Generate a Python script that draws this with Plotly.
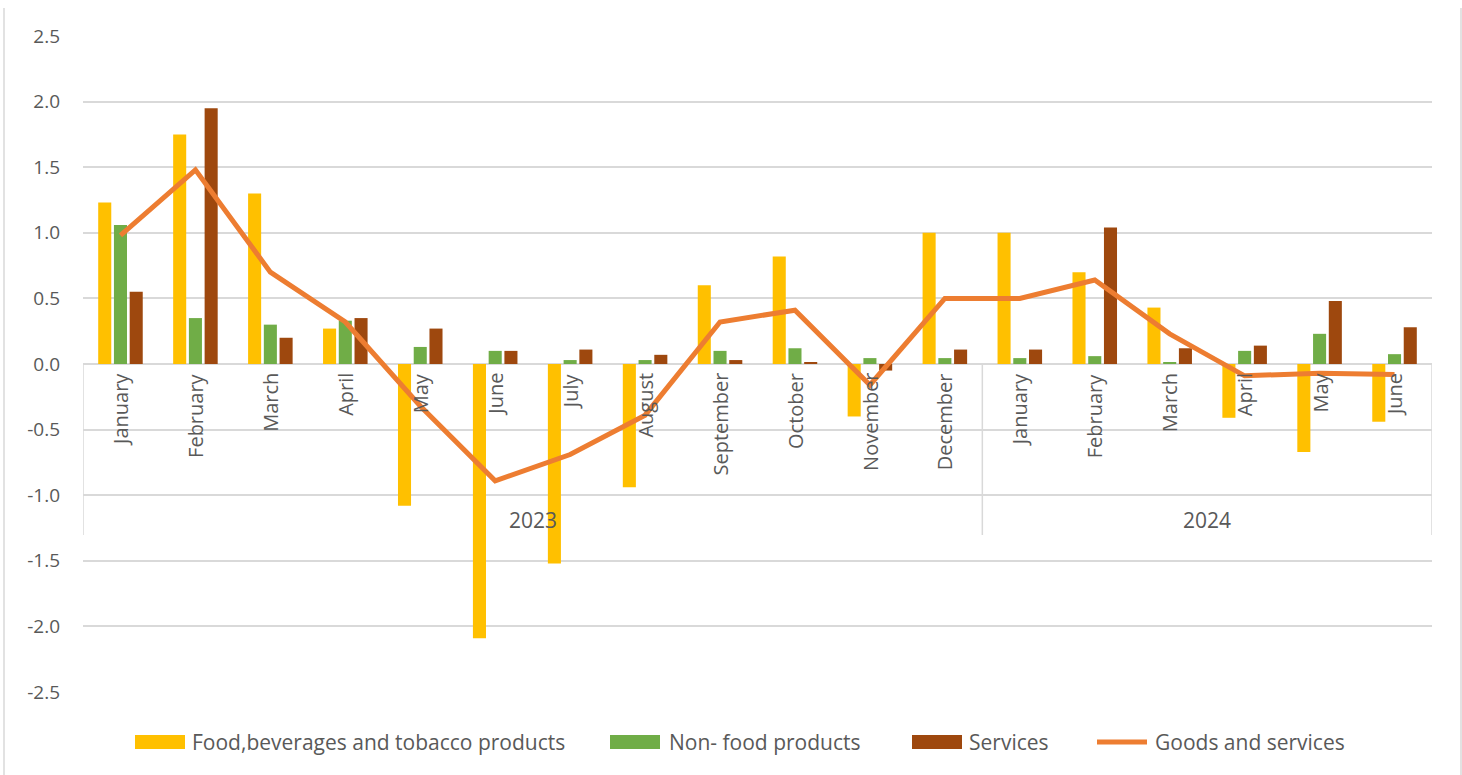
import plotly.graph_objects as go

months = ["January", "February", "March", "April", "May", "June", "July", "August",
          "September", "October", "November", "December",
          "January", "February", "March", "April", "May", "June"]
years = ["2023"] * 12 + ["2024"] * 6

food = [1.23, 1.75, 1.30, 0.27, -1.08, -2.09, -1.52, -0.94, 0.60, 0.82, -0.40, 1.00,
        1.00, 0.70, 0.43, -0.41, -0.67, -0.44]
nonfood = [1.06, 0.35, 0.30, 0.33, 0.13, 0.10, 0.03, 0.03, 0.10, 0.12, 0.045, 0.045,
           0.045, 0.06, 0.015, 0.10, 0.23, 0.075]
services = [0.55, 1.95, 0.20, 0.35, 0.27, 0.10, 0.11, 0.07, 0.03, 0.015, -0.05, 0.11,
            0.11, 1.04, 0.12, 0.14, 0.48, 0.28]
total = [0.98, 1.48, 0.70, 0.32, -0.32, -0.89, -0.69, -0.39, 0.32, 0.41, -0.16, 0.50,
         0.50, 0.64, 0.23, -0.09, -0.07, -0.08]

y_ticks = [2.5, 2.0, 1.5, 1.0, 0.5, 0.0, -0.5, -1.0, -1.5, -2.0, -2.5]
y_tick_labels = ["2.5", "2.0", "1.5", "1.0", "0.5", "0.0", "-0.5", "-1.0", "-1.5", "-2.0", "-2.5"]

series_names = ["Food,beverages and tobacco products", "Non- food products",
                "Services", "Goods and services"]
series_colors = ["#FFC000", "#70AD47", "#9E480E", "#ED7D31"]

x = list(range(len(months)))
FONT = "Open Sans"
GRID = "#D9D9D9"
TXT = "#595959"

W, H = 1462, 775
ML, MR, MT, MB = 83, 30, 36, 83
PW, PH = W - ML - MR, H - MT - MB


def px_x(p):
    return (p - ML) / PW


def px_y(p):
    return (H - MB - p) / PH


fig = go.Figure()
for vals, name, col in zip([food, nonfood, services], series_names[:3], series_colors[:3]):
    fig.add_bar(x=x, y=vals, name=name, marker=dict(color=col, line=dict(width=0)),
                showlegend=False)
fig.add_scatter(x=x, y=total, name=series_names[3], mode="lines",
                line=dict(color=series_colors[3], width=5), showlegend=False)

annotations = []
for i, m in enumerate(months):
    annotations.append(dict(x=i, y=0, xref="x", yref="y", text=m, textangle=-90,
                            showarrow=False, yanchor="top", xanchor="center",
                            yshift=-7, font=dict(family=FONT, size=20, color=TXT)))
for yr in sorted(set(years)):
    idx = [i for i, v in enumerate(years) if v == yr]
    annotations.append(dict(x=sum(idx) / len(idx), y=0, xref="x", yref="y", text=yr,
                            showarrow=False, yanchor="middle", xanchor="center",
                            yshift=-156, font=dict(family=FONT, size=21, color=TXT)))

shapes = []
bounds = [-0.5]
for i in range(1, len(years)):
    if years[i] != years[i - 1]:
        bounds.append(i - 0.5)
bounds.append(len(years) - 0.5)
for b in bounds:
    shapes.append(dict(type="line", xref="x", yref="y", x0=b, x1=b,
                       ysizemode="pixel", yanchor=0, y0=0, y1=-171,
                       line=dict(color=GRID, width=1.5)))
# chart area border
for p in [4, 1461]:
    shapes.append(dict(type="line", xref="paper", yref="paper", x0=px_x(p), x1=px_x(p),
                       y0=px_y(8), y1=px_y(790), line=dict(color=GRID, width=1.5)))

# legend (Excel-style wide swatches)
leg_swatch_x = [135, 610, 912, 1097]
leg_text_x = [190, 667, 967, 1153]
leg_y = 742
for k, (name, col) in enumerate(zip(series_names, series_colors)):
    if k < 3:
        shapes.append(dict(type="rect", xref="paper", yref="paper",
                           x0=px_x(leg_swatch_x[k]), x1=px_x(leg_swatch_x[k] + 50),
                           y0=px_y(leg_y - 7), y1=px_y(leg_y + 7),
                           fillcolor=col, line=dict(width=0)))
    else:
        shapes.append(dict(type="line", xref="paper", yref="paper",
                           x0=px_x(leg_swatch_x[k]), x1=px_x(leg_swatch_x[k] + 50),
                           y0=px_y(leg_y), y1=px_y(leg_y),
                           line=dict(color=col, width=5)))
    annotations.append(dict(x=px_x(leg_text_x[k]), y=px_y(leg_y), xref="paper", yref="paper",
                            text=name, showarrow=False, xanchor="left", yanchor="middle",
                            font=dict(family=FONT, size=21, color=TXT)))

fig.update_layout(
    width=W, height=H,
    margin=dict(l=ML, r=MR, t=MT, b=MB),
    paper_bgcolor="white", plot_bgcolor="white",
    barmode="group", bargap=0.37, bargroupgap=0.17,
    font=dict(family=FONT, color=TXT),
    showlegend=False,
    xaxis=dict(range=[-0.5, len(x) - 0.5], showticklabels=False, showgrid=False,
               zeroline=False, showline=False, ticks=""),
    yaxis=dict(range=[-2.5, 2.5], tickvals=y_ticks, ticktext=y_tick_labels, showgrid=True,
               gridcolor=GRID, gridwidth=1.5, zeroline=True, zerolinecolor=GRID,
               zerolinewidth=1.5, ticks="", ticklabelstandoff=22,
               tickfont=dict(family=FONT, size=19, color=TXT)),
    annotations=annotations,
    shapes=shapes,
)
fig.write_html("out.html", config={"displayModeBar": False},
               post_script="document.body.style.margin='0';")
